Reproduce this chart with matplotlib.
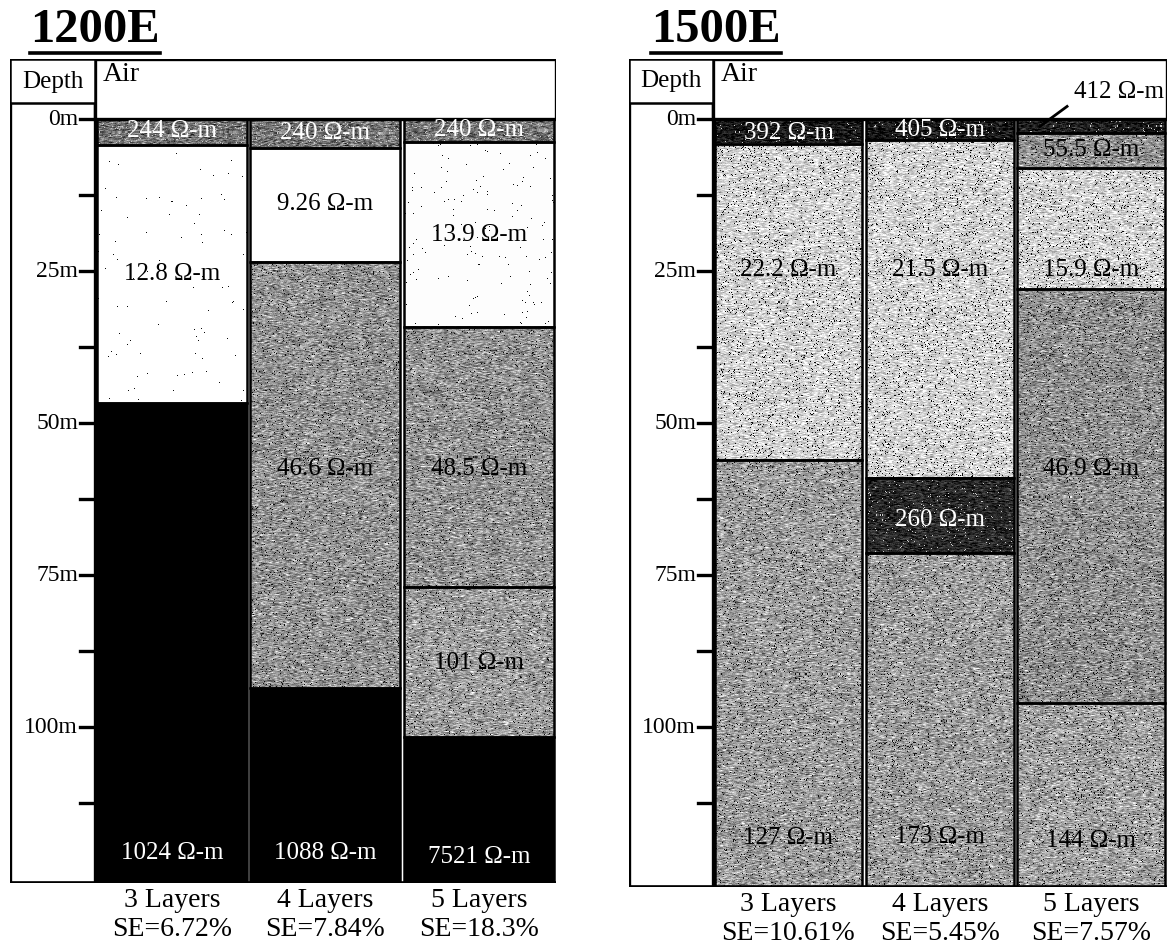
import numpy as np
import matplotlib.pyplot as plt
from matplotlib.patches import Rectangle
from matplotlib.lines import Line2D

plt.rcParams['font.family'] = ['Liberation Serif', 'DejaVu Serif']

models = ['3 Layers', '4 Layers', '5 Layers']
depth_ticks = [0, 25, 50, 75, 100]

# 1200E inversion results: interface depths (m) and layer resistivities (ohm-m)
e1200_interfaces = [[4.3, 46.7], [4.8, 23.5, 93.6], [3.8, 34.2, 77.0, 101.6]]
e1200_rho = [['244', '12.8', '1024'],
             ['240', '9.26', '46.6', '1088'],
             ['240', '13.9', '48.5', '101', '7521']]
e1200_se = ['6.72%', '7.84%', '18.3%']

# 1500E inversion results
e1500_interfaces = [[4.0, 56.0], [3.5, 59.0, 71.4], [2.3, 8.0, 28.0, 96.0]]
e1500_rho = [['392', '22.2', '127'],
             ['405', '21.5', '260', '173'],
             ['412', '55.5', '15.9', '46.9', '144']]
e1500_se = ['10.61%', '5.45%', '7.57%']

# shading: (gray level, noise, speck fraction) per layer, text colour
e1200_fill = [[(0.45, 0.12, 0.03), (1.0, 0.0, 0.002), (0.0, 0.0, 0.0)],
              [(0.45, 0.12, 0.03), (1.0, 0.0, 0.0), (0.58, 0.12, 0.03), (0.0, 0.0, 0.0)],
              [(0.45, 0.12, 0.03), (0.99, 0.0, 0.006), (0.58, 0.12, 0.03),
               (0.62, 0.12, 0.03), (0.0, 0.0, 0.0)]]
e1200_txt = [['w', 'k', 'w'], ['w', 'k', 'k', 'w'], ['w', 'k', 'k', 'k', 'w']]
e1200_lab = [[1.9, 25.5, 120.7], [2.2, 14.0, 57.5, 120.7], [1.7, 19.0, 57.5, 89.5, 121.4]]

e1500_fill = [[(0.1, 0.08, 0.02), (0.83, 0.1, 0.05), (0.62, 0.12, 0.04)],
              [(0.1, 0.08, 0.02), (0.83, 0.1, 0.05), (0.16, 0.08, 0.02), (0.62, 0.12, 0.04)],
              [(0.12, 0.08, 0.02), (0.58, 0.12, 0.03), (0.83, 0.1, 0.05),
               (0.57, 0.12, 0.04), (0.64, 0.12, 0.04)]]
e1500_txt = [['w', 'k', 'k'], ['w', 'k', 'w', 'k'], ['k', 'k', 'k', 'k', 'k']]
e1500_lab = [[2.2, 24.8, 118.3], [1.7, 24.8, 66.0, 118.0], [None, 5.1, 24.8, 57.5, 118.8]]

rng = np.random.default_rng(7)
PX_PER_M = 6.08


def layer(ax, x0, x1, d0, d1, fill, px_per_unit):
    level, amp, speck = fill
    ny = max(int((d1 - d0) * PX_PER_M), 2)
    nx = max(int((x1 - x0) * px_per_unit), 2)
    n = rng.standard_normal((ny, nx + 2))
    n = (n[:, :-2] + n[:, 1:-1] + n[:, 2:]) / 1.7  # short horizontal streaks
    img = level + amp * n
    dots = rng.random((ny, nx)) < speck
    img[dots] = 0.05 if level > 0.5 else 0.8
    img = np.clip(img, 0, 1)
    ax.imshow(img, cmap='gray', vmin=0, vmax=1, extent=(x0, x1, d1, d0),
              origin='upper', interpolation='nearest', aspect='auto', zorder=1)
    ax.add_patch(Rectangle((x0, d0), x1 - x0, d1 - d0, fill=False,
                           ec='black', lw=1.8, zorder=3))


def panel(rect, bottom, interfaces, rho, se, fills, txt, lab, px_per_unit):
    ax = fig.add_axes(rect)
    ax.axis('off')
    top = -9.9
    dw = 0.553
    # depth column and header cells
    ax.add_patch(Rectangle((-dw, top), dw, bottom - top, fc='white', ec='black', lw=2.4, zorder=2))
    ax.add_patch(Rectangle((-dw, top), dw, 7.3, fc='white', ec='black', lw=1.8, zorder=3))
    ax.add_patch(Rectangle((0, top), 3, -top, fc='white', ec='black', lw=2.4, zorder=2))
    ax.text(-dw / 2, -6.2, 'Depth', ha='center', va='center', fontsize=18)
    ax.text(0.05, -7.4, 'Air', ha='left', va='center', fontsize=20)
    for d in np.arange(0, 125, 12.5):
        ax.add_line(Line2D([-0.1, 0], [d, d], color='black', lw=2.4, zorder=4))
    for d in depth_ticks:
        ax.text(-0.11, d, f'{d}m', ha='right', va='center', fontsize=17)
    for i in range(3):
        edges = [0] + interfaces[i] + [bottom]
        x0, x1 = i + 0.012, i + 0.988
        for j in range(len(rho[i])):
            layer(ax, x0, x1, edges[j], edges[j + 1], fills[i][j], px_per_unit)
            if lab[i][j] is not None:
                col = 'white' if txt[i][j] == 'w' else 'black'
                ax.text(i + 0.5, lab[i][j], f'{rho[i][j]} Ω-m', ha='center', va='center',
                        fontsize=18, color=col, zorder=5)
        ax.text(i + 0.5, bottom + 2.9, models[i], ha='center', va='center', fontsize=20)
        ax.text(i + 0.5, bottom + 7.6, f'SE={se[i]}', ha='center', va='center', fontsize=20)
    ax.add_line(Line2D([-dw, 3], [bottom, bottom], color='black', lw=2.6, zorder=4))
    ax.set_xlim(-dw, 3)
    ax.set_ylim(bottom, top)
    return ax


fig = plt.figure(figsize=(11.69, 9.47), dpi=100)
W, H = 1169, 947

axl = panel([10 / W, 1 - 883 / H, 546 / W, 824 / H], 125.6,
            e1200_interfaces, e1200_rho, e1200_se, e1200_fill, e1200_txt, e1200_lab, 153.5)
axr = panel([629 / W, 1 - 887 / H, 538 / W, 828 / H], 126.3,
            e1500_interfaces, e1500_rho, e1500_se, e1500_fill, e1500_txt, e1500_lab, 151.8)

# thin top layer of the 5-layer 1500E model is labelled in the air box
axr.text(2.68, -4.4, f'{e1500_rho[2][0]} Ω-m', ha='center', va='center', fontsize=18)
axr.add_line(Line2D([2.16, 2.34], [1.2, -2.1], color='black', lw=2, zorder=6))

titles = []
for name, xc in [('1200E', 95), ('1500E', 716)]:
    titles.append(fig.text(xc / W, 1 - 30 / H, name, ha='center', va='center',
                           fontsize=35, fontweight='bold'))

fig.canvas.draw()
for t in titles:
    bb = t.get_window_extent()
    y = bb.y0 - 1
    fig.add_artist(Line2D([bb.x0 / W, bb.x1 / W], [y / H, y / H],
                          transform=fig.transFigure, color='black', lw=2.6))

fig.savefig('out.png', dpi=100)
